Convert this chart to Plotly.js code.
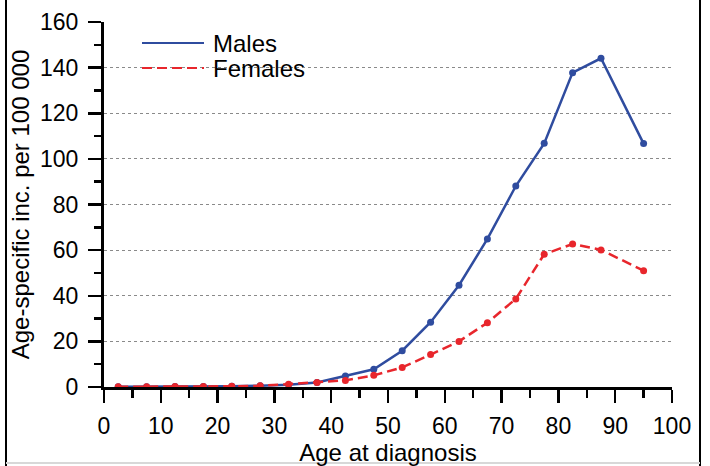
<!DOCTYPE html>
<html>
<head>
<meta charset="utf-8">
<script src="https://cdn.plot.ly/plotly-3.0.1.min.js"></script>
<style>html,body{margin:0;padding:0;background:#fff;}#chart{width:710px;height:466px;}</style>
</head>
<body>
<div id="chart"></div>
<script>
const ages = [2.5, 7.5, 12.5, 17.5, 22.5, 27.5, 32.5, 37.5, 42.5, 47.5, 52.5, 57.5, 62.5, 67.5, 72.5, 77.5, 82.5, 87.5, 95];
const males = [0.1, 0.1, 0.2, 0.2, 0.3, 0.6, 1.0, 2.0, 4.8, 7.8, 15.9, 28.4, 44.6, 64.9, 88.1, 106.8, 137.8, 144.1, 106.7];
const females = [0.1, 0.1, 0.2, 0.2, 0.3, 0.5, 1.2, 2.0, 2.9, 5.1, 8.6, 14.2, 20.0, 28.2, 38.6, 58.2, 62.7, 60.1, 51.0];
const xTicks = [0, 10, 20, 30, 40, 50, 60, 70, 80, 90, 100];
const yTicks = [0, 20, 40, 60, 80, 100, 120, 140, 160];
const seriesNames = ['Males', 'Females'];

const blue = '#2f4c9f';
const red = '#e8262c';
const femaleDash = '10px,5px';
const font = 'Liberation Sans, Arial, sans-serif';

const traces = [
  {x: ages, y: males, name: seriesNames[0], mode: 'lines+markers', line: {color: blue, width: 2.5}, marker: {color: blue, size: 7}, showlegend: false},
  {x: ages, y: females, name: seriesNames[1], mode: 'lines+markers', line: {color: red, width: 2.5, dash: femaleDash}, marker: {color: red, size: 7}, showlegend: false}
];

// manual legend (positions in paper units; plot area 568 x 365 px)
const px = v => (v - 104) / 568;
const py = v => (387 - v) / 365;
const legendRows = [43, 68];
const legendShapes = legendRows.map((yy, i) => ({
  type: 'line', xref: 'paper', yref: 'paper',
  x0: px(142), x1: px(204), y0: py(yy), y1: py(yy),
  line: {color: i === 0 ? blue : red, width: 2, dash: i === 0 ? 'solid' : femaleDash}
}));
const legendText = legendRows.map((yy, i) => ({
  xref: 'paper', yref: 'paper', x: px(211), y: py(yy), xanchor: 'left', yanchor: 'middle',
  text: seriesNames[i], showarrow: false, font: {size: 24, family: font, color: '#000'}
}));

const layout = {
  width: 710, height: 466,
  margin: {l: 104, r: 38, t: 22, b: 79},
  paper_bgcolor: '#fff', plot_bgcolor: '#fff',
  font: {family: font, size: 23, color: '#000'},
  showlegend: false,
  xaxis: {
    range: [0, 100], tickvals: xTicks, ticktext: xTicks.map(String),
    ticks: 'outside', ticklen: 13, tickwidth: 2.5, tickcolor: '#000', ticklabelstandoff: 3,
    showline: true, linewidth: 3, linecolor: '#000', showgrid: false, zeroline: false,
    minor: {dtick: 5, tick0: 0, ticks: 'outside', ticklen: 8, tickwidth: 2.5, tickcolor: '#000', showgrid: false},
    title: {text: 'Age at diagnosis', font: {size: 24, family: font}, standoff: 12},
    tickfont: {size: 23, family: font}
  },
  yaxis: {
    range: [0, 160], tickvals: yTicks, ticktext: yTicks.map(String),
    ticks: 'outside', ticklen: 13, tickwidth: 2.5, tickcolor: '#000', ticklabelstandoff: 5,
    showline: true, linewidth: 3, linecolor: '#000', zeroline: false,
    showgrid: true, gridcolor: '#8a8a8a', gridwidth: 1, griddash: 'dot',
    minor: {dtick: 10, tick0: 0, ticks: 'outside', ticklen: 7, tickwidth: 2.5, tickcolor: '#000', showgrid: false},
    title: {text: 'Age-specific inc. per 100 000', font: {size: 24, family: font}, standoff: 4},
    tickfont: {size: 23, family: font}
  },
  annotations: legendText,
  shapes: [
    {type: 'line', xref: 'paper', yref: 'paper', x0: px(6), x1: px(6), y0: py(466), y1: py(0), line: {color: '#000', width: 2}},
    {type: 'line', xref: 'paper', yref: 'paper', x0: px(700), x1: px(700), y0: py(466), y1: py(0), line: {color: '#000', width: 2}},
    {type: 'line', xref: 'paper', yref: 'paper', x0: px(6), x1: px(700), y0: py(463), y1: py(463), line: {color: '#d8d8d8', width: 2}}
  ].concat(legendShapes)
};

Plotly.newPlot('chart', traces, layout, {staticPlot: true, displayModeBar: false});
</script>
</body>
</html>
